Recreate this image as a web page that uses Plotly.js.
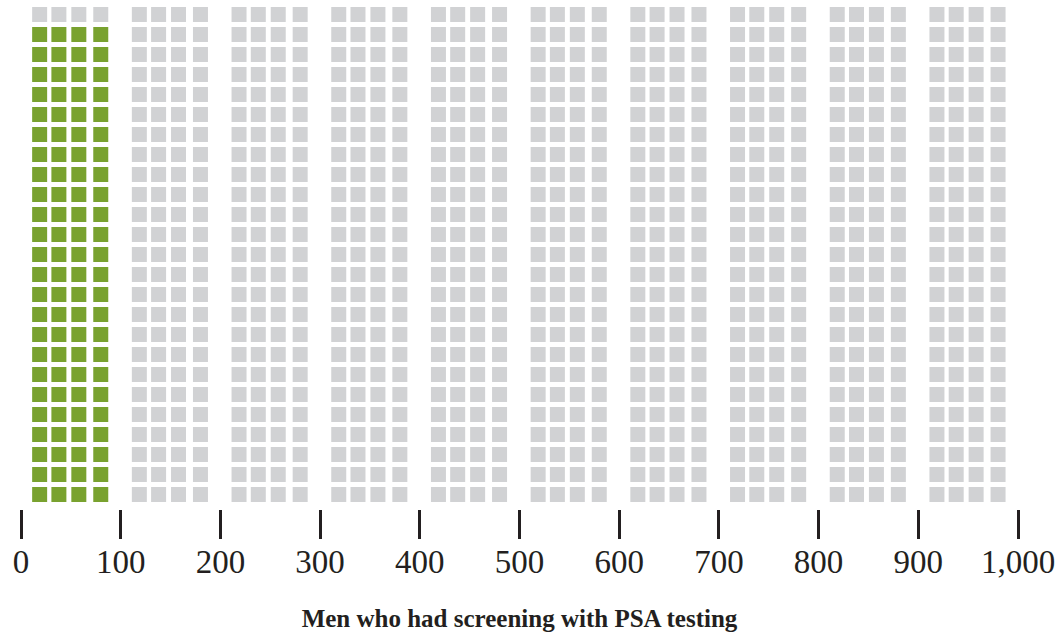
<!DOCTYPE html>
<html>
<head>
<meta charset="utf-8">
<script src="https://cdn.plot.ly/plotly-3.0.1.min.js"></script>
<style>html,body{margin:0;padding:0;background:#fff;}#chart{width:1058px;height:640px;}</style>
</head>
<body>
<div id="chart"></div>
<script>
// ---- data ----
const categories = ['Men in highlighted group', 'Other men'];
const counts = [96, 904];
const unitsPerGroup = 100;
const tickValues = [0, 100, 200, 300, 400, 500, 600, 700, 800, 900, 1000];
const tickLabels = ['0', '100', '200', '300', '400', '500', '600', '700', '800', '900', '1,000'];
const axisTitle = 'Men who had screening with PSA testing';
const colors = ['#79a22f', '#d1d2d4'];

// ---- layout helpers (positions computed, not data) ----
const colsPerGroup = 4;
const colOffsets = [18.7, 38, 58, 80];

const traces = categories.map((name, ci) => ({ name, x: [], y: [], type: 'scatter', mode: 'markers',
  hoverinfo: 'skip',
  marker: { symbol: 'square', size: 15, color: colors[ci], line: { width: 0 } } }));

let idx = 0;
counts.forEach((n, ci) => {
  for (let j = 0; j < n; j++, idx++) {
    const g = Math.floor(idx / unitsPerGroup);
    const k = idx % unitsPerGroup;
    const row = Math.floor(k / colsPerGroup);
    const col = k % colsPerGroup;
    traces[ci].x.push(g * unitsPerGroup + colOffsets[col]);
    traces[ci].y.push(row);
  }
});

const layout = {
  width: 1058, height: 640,
  margin: { l: 21, r: 40, t: 0, b: 131 },
  paper_bgcolor: '#fff', plot_bgcolor: '#fff',
  showlegend: false,
  xaxis: {
    range: [0, 1000], tickvals: tickValues, ticktext: tickLabels,
    ticks: 'outside', ticklen: 29, tickwidth: 3, tickcolor: '#231f20',
    showgrid: false, zeroline: false, showline: false, fixedrange: true,
    ticklabelstandoff: -6,
    tickfont: { family: 'Liberation Serif, serif', size: 33, color: '#231f20' },
    title: { text: '<b>' + axisTitle + '</b>', standoff: 30,
      font: { family: 'Liberation Serif, serif', size: 25, color: '#231f20' } }
  },
  yaxis: { range: [-0.725, 24.725], visible: false, showgrid: false, zeroline: false, fixedrange: true }
};

Plotly.newPlot('chart', traces, layout, { displayModeBar: false, staticPlot: true });
</script>
</body>
</html>
